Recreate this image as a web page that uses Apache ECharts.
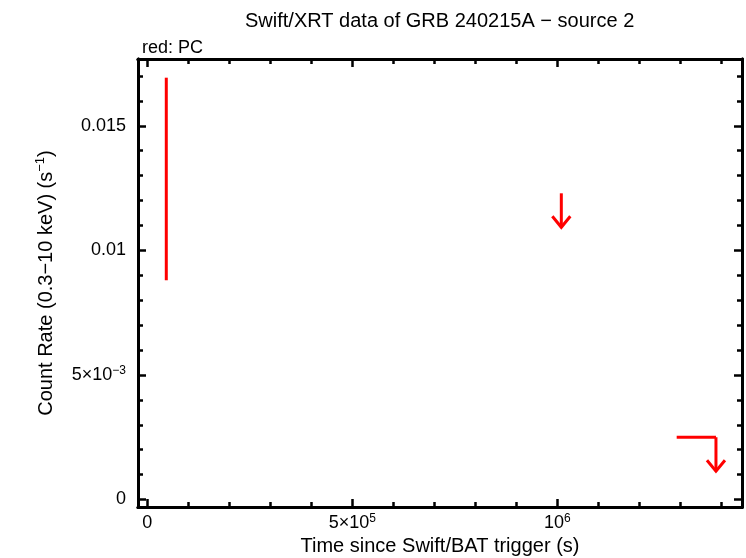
<!DOCTYPE html>
<html>
<head>
<meta charset="utf-8">
<script src="https://cdn.jsdelivr.net/npm/echarts@6/dist/echarts.min.js"></script>
<style>
    html, body { margin: 0; padding: 0; background: #fff; }
    #chart { width: 746px; height: 558px; }
</style>
</head>
<body>
<div id="chart"></div>
<script type="text/javascript">
    // PC mode detections (time in s, rate in counts/s)
    var detTime = [46300];
    var detTimeLo = [46300];
    var detTimeHi = [46300];
    var detRate = [0.01286];
    var detRateLo = [0.00880];
    var detRateHi = [0.01693];

    // PC mode upper limits
    var ulTime = [1009800, 1387000];
    var ulTimeStart = [1009800, 1291200];
    var ulRate = [0.01229, 0.00250];

    // axis ticks
    var xMajor = [0, 500000, 1000000];
    var xMinor = [100000, 200000, 300000, 400000, 600000, 700000, 800000, 900000, 1100000, 1200000, 1300000, 1400000];
    var yMajor = [0, 0.005, 0.01, 0.015];
    var yMinor = [0.001, 0.002, 0.003, 0.004, 0.006, 0.007, 0.008, 0.009, 0.011, 0.012, 0.013, 0.014, 0.016, 0.017];

    var xMin = -22700, xMax = 1450500;
    var yMin = -0.0003, yMax = 0.01768;

    var FONT = 'Liberation Sans, Arial, Helvetica, sans-serif';
    var RED = '#ff0000';

    var detData = detTime.map(function (t, i) {
        return [t, detRate[i], detRateLo[i], detRateHi[i], detTimeLo[i], detTimeHi[i]];
    });
    var ulData = ulTime.map(function (t, i) {
        return [t, ulRate[i], ulTimeStart[i]];
    });

    var rich = {
        b: { fontSize: 18, fontFamily: FONT, color: '#000', lineHeight: 20 },
        s: { fontSize: 12, fontFamily: FONT, color: '#000', lineHeight: 12, verticalAlign: 'top' }
    };

    function xFmt(v) {
        if (v === 0) return '{b|0}';
        if (v === 500000) return '{b|5×10}{s|5}';
        if (v === 1000000) return '{b|10}{s|6}';
        return '';
    }
    function yFmt(v) {
        if (v === 0) return '{b|0}';
        if (v === 0.005) return '{b|5×10}{s|−3}';
        if (v === 0.01) return '{b|0.01}';
        if (v === 0.015) return '{b|0.015}';
        return '';
    }

    function makeX(pos, ticks, len, labels) {
        return {
            type: 'value', position: pos, min: xMin, max: xMax,
            splitLine: { show: false },
            axisLine: { show: true, onZero: false, lineStyle: { color: '#000', width: 3 } },
            axisTick: { show: true, inside: true, length: len, customValues: ticks, lineStyle: { color: '#000', width: 2.5 } },
            axisLabel: labels ? { show: true, customValues: ticks, margin: 6, formatter: xFmt, rich: rich } : { show: false },
            name: labels ? 'Time since Swift/BAT trigger (s)' : '',
            nameLocation: 'middle', nameGap: 28,
            nameTextStyle: { fontSize: 20, fontFamily: FONT, color: '#000' }
        };
    }
    function makeY(pos, ticks, len, labels) {
        return {
            type: 'value', position: pos, min: yMin, max: yMax,
            splitLine: { show: false },
            axisLine: { show: true, onZero: false, lineStyle: { color: '#000', width: 3 } },
            axisTick: { show: true, inside: true, length: len, customValues: ticks, lineStyle: { color: '#000', width: 2.5 } },
            axisLabel: labels ? { show: true, customValues: ticks, margin: 12, formatter: yFmt, rich: rich } : { show: false },
            name: labels ? '{a|Count Rate (0.3−10 keV) (s}{t|−1}{a|)}' : '',
            nameLocation: 'middle', nameGap: 80,
            nameTextStyle: {
                fontSize: 20, fontFamily: FONT, color: '#000',
                rich: {
                    a: { fontSize: 20, fontFamily: FONT, color: '#000', lineHeight: 24 },
                    t: { fontSize: 13, fontFamily: FONT, color: '#000', lineHeight: 13, verticalAlign: 'top' }
                }
            }
        };
    }

    var myChart = echarts.init(document.getElementById('chart'));
    var option = {
        animation: false,
        backgroundColor: '#fff',
        title: [
            {
                text: 'Swift/XRT data of GRB 240215A − source 2',
                left: 240, top: 6,
                textStyle: { fontSize: 20, fontWeight: 'normal', fontFamily: FONT, color: '#000' }
            },
            {
                text: 'red: PC',
                left: 137, top: 34,
                textStyle: { fontSize: 18, fontWeight: 'normal', fontFamily: FONT, color: '#000' }
            }
        ],
        grid: { left: 138, right: 4, top: 59, bottom: 51, outerBoundsMode: 'none' },
        xAxis: [
            makeX('bottom', xMajor, 8, true),
            makeX('bottom', xMinor, 5, false),
            makeX('top', xMajor, 8, false),
            makeX('top', xMinor, 5, false)
        ],
        yAxis: [
            makeY('left', yMajor, 8, true),
            makeY('left', yMinor, 5, false),
            makeY('right', yMajor, 8, false),
            makeY('right', yMinor, 5, false)
        ],
        series: [
            {
                name: 'PC',
                type: 'custom',
                xAxisIndex: 0, yAxisIndex: 0,
                data: detData,
                renderItem: function (params, api) {
                    var t = api.value(0), r = api.value(1);
                    var pLo = api.coord([t, api.value(2)]);
                    var pHi = api.coord([t, api.value(3)]);
                    var pL = api.coord([api.value(4), r]);
                    var pR = api.coord([api.value(5), r]);
                    var st = { stroke: RED, lineWidth: 3 };
                    return {
                        type: 'group',
                        children: [
                            { type: 'line', shape: { x1: pLo[0], y1: pLo[1], x2: pHi[0], y2: pHi[1] }, style: st },
                            { type: 'line', shape: { x1: pL[0], y1: pL[1], x2: pR[0], y2: pR[1] }, style: st }
                        ]
                    };
                }
            },
            {
                name: 'PC upper limits',
                type: 'custom',
                xAxisIndex: 0, yAxisIndex: 0,
                data: ulData,
                renderItem: function (params, api) {
                    var t = api.value(0), r = api.value(1);
                    var p = api.coord([t, r]);
                    var pS = api.coord([api.value(2), r]);
                    var tipY = p[1] + 34;
                    var st = { stroke: RED, lineWidth: 3, fill: 'none' };
                    return {
                        type: 'group',
                        children: [
                            { type: 'line', shape: { x1: pS[0], y1: p[1], x2: p[0], y2: p[1] }, style: st },
                            { type: 'line', shape: { x1: p[0], y1: p[1], x2: p[0], y2: tipY }, style: st },
                            { type: 'polyline', shape: { points: [[p[0] - 9, tipY - 11], [p[0], tipY], [p[0] + 9, tipY - 11]] }, style: st }
                        ]
                    };
                }
            }
        ]
    };
    myChart.setOption(option);
</script>
</body>
</html>
